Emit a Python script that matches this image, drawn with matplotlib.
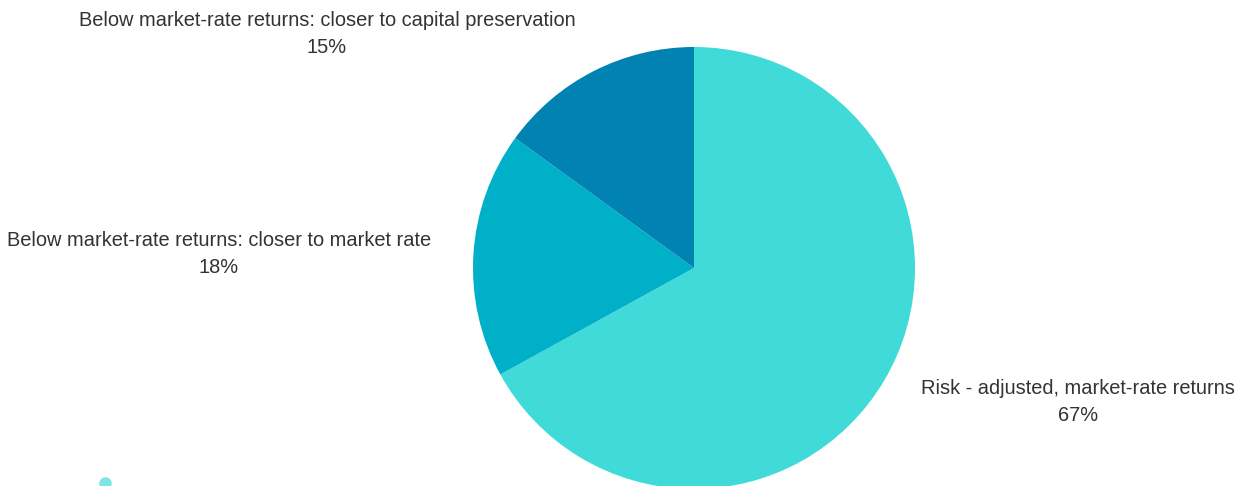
import matplotlib
matplotlib.use("Agg")
import matplotlib.pyplot as plt

# slice data, clockwise from 12 o'clock
labels = [
    "Risk - adjusted, market-rate returns",
    "Below market-rate returns: closer to market rate",
    "Below market-rate returns: closer to capital preservation",
]
shares = [67, 18, 15]
colors = ["#40dbd8", "#00afc8", "#0082b2"]

W, H = 1242, 486
plt.rcParams["font.family"] = ["Liberation Sans", "DejaVu Sans"]

fig = plt.figure(figsize=(W / 100, H / 100), dpi=100)
ax = fig.add_axes([0, 0, 1, 1])

cx, cy, r = 694, H - 268, 221
ax.pie(shares, colors=colors, startangle=90, counterclock=False,
       center=(cx, cy), radius=r, wedgeprops=dict(linewidth=0))

# label anchor points (pixel coords, top-left origin)
label_xy = [(1078, 402), (219, 254), (327, 34)]
for (lx, ly), name, pct in zip(label_xy, labels, shares):
    ax.text(lx, H - ly, f"{name}\n{pct}%", ha="center", va="center",
            fontsize=14.4, color="#333333", linespacing=1.55)

# stray legend dot at lower left
ax.plot([105], [H - 483], "o", ms=9, color="#7ee5e5", mec="none", clip_on=False)

ax.set_xlim(0, W)
ax.set_ylim(0, H)
ax.set_axis_off()

fig.savefig("out.png", dpi=100, facecolor="white")
